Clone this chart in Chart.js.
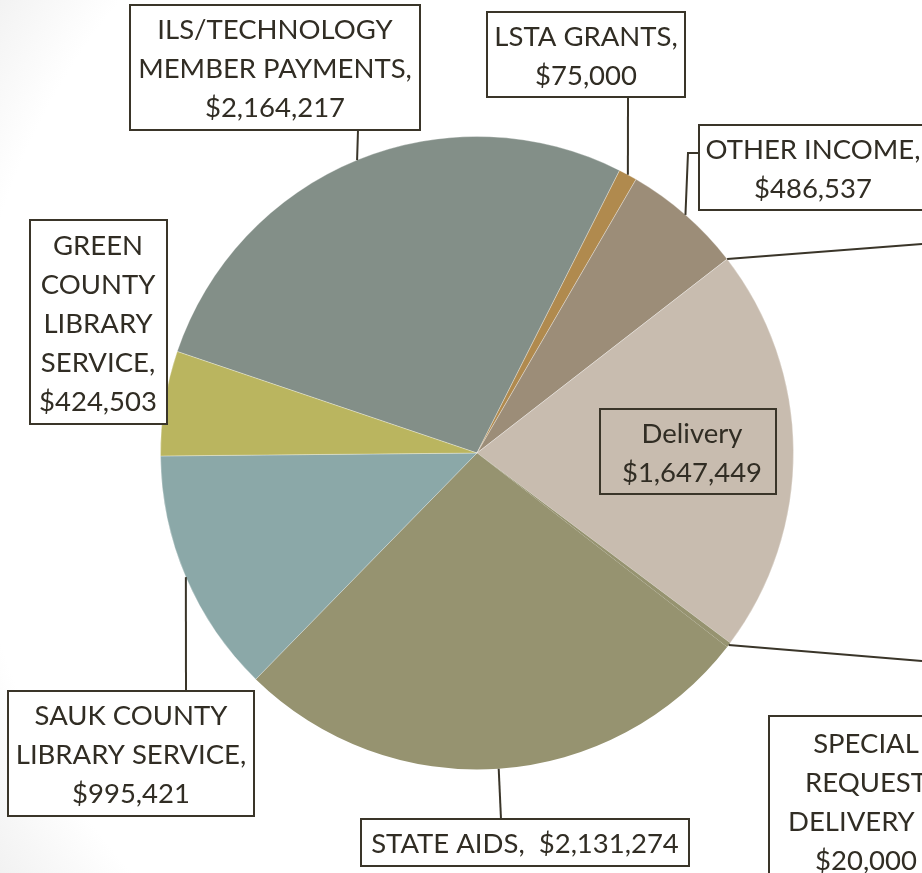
<!DOCTYPE html>
<html lang="en">
<head>
<meta charset="UTF-8">
<title>Revenue</title>
<script src="https://cdn.jsdelivr.net/npm/chart.js"></script>
<style>
    html, body {
        margin: 0;
        padding: 0;
        width: 922px;
        height: 873px;
        overflow: hidden;
    }
    body {
        background: radial-gradient(ellipse 760px 820px at 560px 430px, #ffffff 78%, #e9e9e9 100%);
    }
    canvas {
        display: block;
    }
</style>
</head>
<body>
<canvas id="pie" width="922" height="873"></canvas>
<script>
// Категории (строки подписи) и значения
const categories = [
    ['ILS/TECHNOLOGY', 'MEMBER PAYMENTS,'],
    ['LSTA GRANTS,'],
    ['OTHER INCOME,'],
    ['Delivery'],
    ['SPECIAL', 'REQUEST', 'DELIVERY 1,'],
    ['STATE AIDS, '],
    ['SAUK COUNTY', 'LIBRARY SERVICE,'],
    ['GREEN', 'COUNTY', 'LIBRARY', 'SERVICE,']
];
const values = [2164217, 75000, 486537, 1647449, 20000, 2131274, 995421, 424503];
const colors = ['#838f88', '#b08a4e', '#9c8d78', '#c8bcaf', '#969370', '#969370', '#8ba8a8', '#bab55f'];

// Положение рамок подписей (x, y, ширина, высота) и выносных линий
const boxes = [
    { x: 130, y: 5,   w: 290, h: 125, cx: 275, leader: [[358, 130]] },
    { x: 487, y: 12,  w: 198, h: 85,  cx: 586, leader: [[628, 97]] },
    { x: 699, y: 125, w: 260, h: 85,  cx: 813, leader: [[699, 153], [688, 153]] },
    { x: 600, y: 409, w: 176, h: 85,  cx: 692, fill: false },
    { x: 769, y: 716, w: 192, h: 170, cx: 866, leader: [[922, 661]] },
    { x: 361, y: 819, w: 328, h: 47,  cx: 525, sameLine: true, leader: [[501, 819]] },
    { x: 8,   y: 691, w: 246, h: 125, cx: 131, leader: [[186, 691]] },
    { x: 30,  y: 220, w: 137, h: 204, cx: 98 }
];
// Отдельная линия справа от границы OTHER INCOME / Delivery (подпись за краем)
const extraLeaders = [{ slice: 2, at: 'end', from: [[922, 244]] }];

const FONT = '27.5px Lato, "Open Sans", sans-serif';
const LINE_H = 39;
const INK = '#312d24';
const EDGE = '#3a3529';

function money(v) {
    return '$' + v.toLocaleString('en-US');
}

function arcPoint(arc, which) {
    const p = arc.getProps(['x', 'y', 'startAngle', 'endAngle', 'outerRadius'], true);
    let a = (p.startAngle + p.endAngle) / 2;
    if (which === 'end') a = p.endAngle;
    return [p.x + p.outerRadius * Math.cos(a), p.y + p.outerRadius * Math.sin(a)];
}

function drawLine(ctx, pts) {
    ctx.beginPath();
    ctx.moveTo(pts[0][0], pts[0][1]);
    for (let i = 1; i < pts.length; i++) ctx.lineTo(pts[i][0], pts[i][1]);
    ctx.stroke();
}

// Плагин: рамки с подписями и выносные линии
const calloutPlugin = {
    id: 'callouts',
    afterDatasetsDraw(chart) {
        const ctx = chart.ctx;
        const arcs = chart.getDatasetMeta(0).data;
        ctx.save();
        ctx.strokeStyle = EDGE;
        ctx.lineWidth = 2;

        // выносные линии
        boxes.forEach((b, i) => {
            if (!b.leader) return;
            drawLine(ctx, b.leader.concat([arcPoint(arcs[i], 'mid')]));
        });
        extraLeaders.forEach(l => {
            drawLine(ctx, l.from.concat([arcPoint(arcs[l.slice], l.at)]));
        });

        // рамки и текст
        ctx.font = FONT;
        ctx.textAlign = 'center';
        ctx.textBaseline = 'middle';
        boxes.forEach((b, i) => {
            let lines = categories[i].slice();
            if (b.sameLine) {
                lines[lines.length - 1] += ' ' + money(values[i]);
            } else {
                lines.push(money(values[i]));
            }
            if (b.fill !== false) {
                ctx.fillStyle = '#ffffff';
                ctx.fillRect(b.x, b.y, b.w, b.h);
            }
            ctx.strokeRect(b.x, b.y, b.w, b.h);
            ctx.fillStyle = INK;
            const top = b.y + (b.h - lines.length * LINE_H) / 2 + LINE_H / 2 + 2;
            lines.forEach((t, k) => ctx.fillText(t, b.cx, top + k * LINE_H));
        });
        ctx.restore();
    }
};

const chart = new Chart(document.getElementById('pie'), {
    type: 'pie',
    data: {
        labels: categories,
        datasets: [{
            data: values,
            backgroundColor: colors,
            borderColor: 'rgba(255,255,255,0.3)',
            borderWidth: [1, 1, 1, 1, 0, 0, 1, 1]
        }]
    },
    options: {
        responsive: false,
        animation: false,
        rotation: -71.3,
        layout: {
            padding: { left: 160, right: 128, top: 136, bottom: 103 }
        },
        plugins: {
            legend: { display: false },
            tooltip: { enabled: false }
        }
    },
    plugins: [calloutPlugin]
});
</script>
</body>
</html>
